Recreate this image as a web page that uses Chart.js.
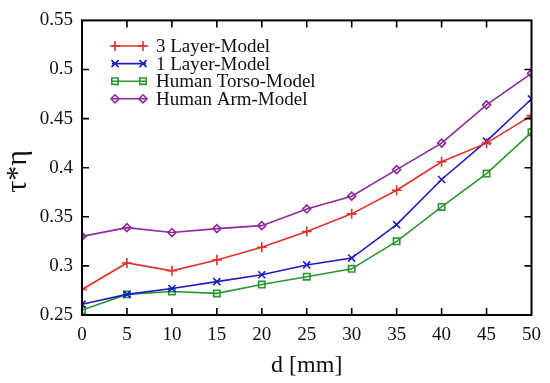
<!DOCTYPE html>
<html>
<head>
<meta charset="utf-8">
<script src="https://cdn.jsdelivr.net/npm/chart.js@4/dist/chart.umd.min.js"></script>
<style>
  html, body { margin: 0; padding: 0; background: #fff; }
  #wrap { width: 550px; height: 383px; }
</style>
</head>
<body>
<div id="wrap"><canvas id="chart"></canvas></div>
<script>
'use strict';

// data
const dValues = [0, 5, 10, 15, 20, 25, 30, 35, 40, 45, 50];
const layer3 = [0.276, 0.303, 0.295, 0.306, 0.319, 0.335, 0.353, 0.377, 0.406, 0.425, 0.453];
const layer1 = [0.261, 0.271, 0.277, 0.284, 0.291, 0.301, 0.308, 0.342, 0.388, 0.427, 0.470];
const torso  = [0.255, 0.271, 0.274, 0.272, 0.281, 0.289, 0.297, 0.325, 0.360, 0.394, 0.436];
const arm    = [0.330, 0.339, 0.334, 0.338, 0.341, 0.358, 0.371, 0.398, 0.425, 0.464, 0.496];
const seriesNames = ['3 Layer-Model', '1 Layer-Model', 'Human Torso-Model', 'Human Arm-Model'];
const xTitle = 'd [mm]';
const yTitle = 'τ*η ';

const SERIF = '"Liberation Serif", "DejaVu Serif", serif';

const toPoints = arr => arr.map((v, i) => ({ x: dValues[i], y: v }));

const makeSet = (label, data, color, style, radius) => ({
    label: label,
    data: toPoints(data),
    borderColor: color,
    backgroundColor: color,
    pointBorderColor: color,
    pointBackgroundColor: 'rgba(0,0,0,0)',
    pointStyle: style,
    pointRadius: radius,
    pointBorderWidth: 1.6,
    borderWidth: 1.6,
    tension: 0
});

// box frame + inward ticks on all four sides
const frameTicks = {
    id: 'frameTicks',
    afterDatasetsDraw(chart) {
        const { ctx, chartArea: a, scales } = chart;
        const len = 7;
        ctx.save();
        ctx.strokeStyle = '#000';
        ctx.lineWidth = 1.6;
        ctx.beginPath();
        scales.x.ticks.forEach(t => {
            if (t.value <= 0 || t.value >= 50) return;
            const px = scales.x.getPixelForValue(t.value);
            ctx.moveTo(px, a.bottom); ctx.lineTo(px, a.bottom - len);
            ctx.moveTo(px, a.top); ctx.lineTo(px, a.top + len);
        });
        scales.y.ticks.forEach(t => {
            if (t.value <= 0.2501 || t.value >= 0.5499) return;
            const py = scales.y.getPixelForValue(t.value);
            ctx.moveTo(a.left, py); ctx.lineTo(a.left + len, py);
            ctx.moveTo(a.right, py); ctx.lineTo(a.right - len, py);
        });
        ctx.stroke();
        ctx.lineWidth = 2;
        ctx.strokeRect(a.left, a.top, a.right - a.left, a.bottom - a.top);
        ctx.restore();
    }
};

// legend inside the plot, top-left
const innerLegend = {
    id: 'innerLegend',
    afterDatasetsDraw(chart) {
        const { ctx } = chart;
        const x0 = 112, x1 = 146, tx = 156, y0 = 46, dy = 17.6;
        ctx.save();
        chart.data.datasets.forEach((ds, i) => {
            const y = y0 + i * dy;
            ctx.strokeStyle = ds.borderColor;
            ctx.lineWidth = ds.borderWidth;
            ctx.beginPath();
            ctx.moveTo(x0, y); ctx.lineTo(x1, y);
            ctx.stroke();
            const opts = { pointStyle: ds.pointStyle, radius: ds.pointRadius, borderWidth: ds.pointBorderWidth, rotation: 0 };
            [x0 + 3, x1 - 3].forEach(px => {
                ctx.strokeStyle = ds.borderColor;
                ctx.fillStyle = 'rgba(0,0,0,0)';
                ctx.lineWidth = ds.pointBorderWidth;
                Chart.helpers.drawPoint(ctx, opts, px, y);
            });
            ctx.fillStyle = '#111';
            ctx.font = '19px ' + SERIF;
            ctx.textBaseline = 'middle';
            ctx.fillText(seriesNames[i], tx, y + 1);
        });
        ctx.restore();
    }
};

new Chart(document.getElementById('chart'), {
    type: 'line',
    data: {
        datasets: [
            makeSet(seriesNames[0], layer3, '#e0302a', 'cross', 5),
            makeSet(seriesNames[1], layer1, '#1c1cc0', 'crossRot', 5),
            makeSet(seriesNames[2], torso,  '#2a9630', 'rect', 4.5),
            makeSet(seriesNames[3], arm,    '#8e2a9e', 'rectRot', 4)
        ]
    },
    options: {
        responsive: true,
        maintainAspectRatio: false,
        animation: false,
        layout: { padding: { top: 10, right: 14, left: 0, bottom: 0 } },
        plugins: {
            legend: { display: false },
            tooltip: { enabled: false }
        },
        scales: {
            x: {
                type: 'linear',
                min: 0,
                max: 50,
                afterFit: s => { s.height = 68; },
                grid: { display: false, drawTicks: false },
                border: { display: false },
                ticks: {
                    stepSize: 5,
                    padding: 9,
                    color: '#111',
                    font: { family: SERIF, size: 19 },
                    maxRotation: 0
                },
                title: {
                    display: true,
                    text: xTitle,
                    color: '#111',
                    font: { family: SERIF, size: 24 },
                    padding: { top: 0, bottom: 3 }
                }
            },
            y: {
                min: 0.25,
                max: 0.55,
                afterFit: s => { s.width = 82; },
                grid: { display: false, drawTicks: false },
                border: { display: false },
                ticks: {
                    stepSize: 0.05,
                    padding: 9,
                    color: '#111',
                    font: { family: SERIF, size: 19 },
                    callback: v => String(+v.toFixed(2))
                },
                title: {
                    display: true,
                    text: yTitle,
                    color: '#111',
                    font: { family: SERIF, size: 30 },
                    padding: { top: 0, bottom: 0 }
                }
            }
        }
    },
    plugins: [frameTicks, innerLegend]
});
</script>
</body>
</html>
